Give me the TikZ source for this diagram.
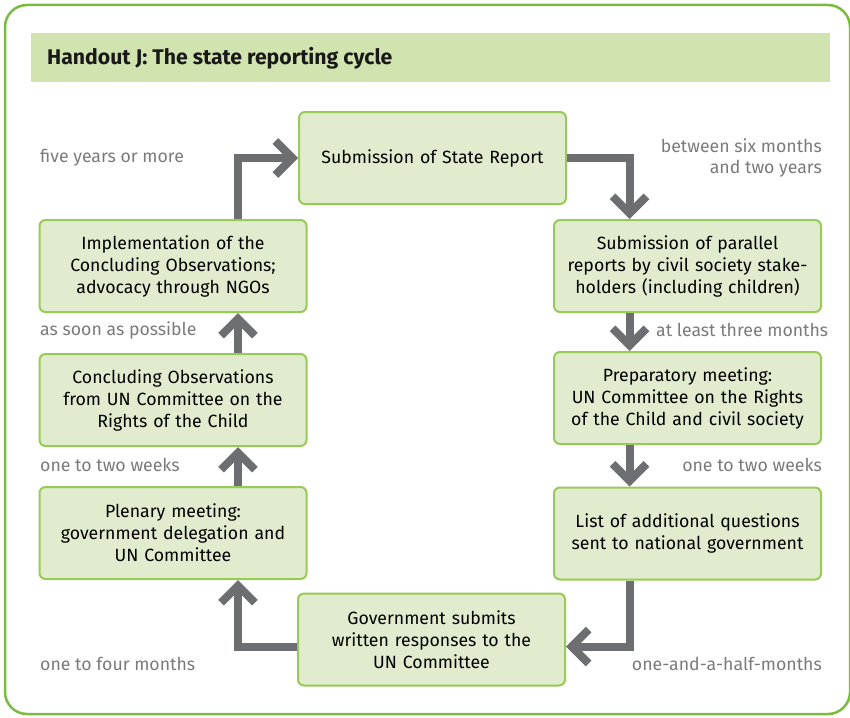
\documentclass[tikz,border=0pt]{standalone}
\usepackage{fontspec}
\setmainfont{Fira Sans}
\usetikzlibrary{arrows.meta}
\definecolor{leaf}{RGB}{152,202,88}
\definecolor{leafpale}{RGB}{224,236,205}
\definecolor{leafband}{RGB}{209,228,176}
\definecolor{frameline}{RGB}{124,186,66}
\definecolor{arrowgrey}{RGB}{109,110,113}
\definecolor{notegrey}{RGB}{122,122,124}
\tikzset{
  stage/.style={rectangle, draw=leaf, fill=leafpale, line width=2pt,
                rounded corners=6pt, minimum width=267pt, minimum height=92pt,
                align=center, text width=258pt, font=\fontsize{17.7}{22}\selectfont},
  flow/.style={draw=arrowgrey, line width=8pt,
               -{Straight Barb[length=17pt, width=34pt]}},
  gap/.style={text=notegrey, font=\fontsize{17.7}{21}\selectfont, inner sep=0pt},
}
\begin{document}
\begin{tikzpicture}[x=1pt, y=-1pt]
  \useasboundingbox (0,0) rectangle (850,717);
  % outer frame and title band
  \draw[frameline, line width=2.5pt, rounded corners=22pt] (5,5) rectangle (850,714);
  \fill[leafband] (31,33) rectangle (830,82);
  \node[anchor=west, inner sep=0pt, font=\fontsize{21.2}{22}\selectfont\bfseries,
        text=black!90] (title) at (47,58) {Handout J: The state reporting cycle};

  % the stages of the cycle
  \node[stage] (submit) at (432.5,158) {Submission of State Report};
  \node[stage] (parallel) at (687.5,266) {Submission of parallel\\reports by civil society stake-\\holders (including children)};
  \node[stage] (prep) at (687.5,398) {Preparatory meeting:\\UN Committee on the Rights\\of the Child and civil society};
  \node[stage] (questions) at (687.5,533.5) {List of additional questions\\sent to national government};
  \node[stage] (responses) at (431.5,639.5) {Government submits\\written responses to the\\UN Committee};
  \node[stage] (plenary) at (173,533) {Plenary meeting:\\government delegation and\\UN Committee};
  \node[stage] (concl) at (173,400) {Concluding Observations\\from UN Committee on the\\Rights of the Child};
  \node[stage] (impl) at (173,266) {Implementation of the\\Concluding Observations;\\advocacy through NGOs};

  % arrows
  \draw[flow] ([xshift=65pt]impl.north) |- (submit.west);
  \draw[flow] (submit.east) -| ([xshift=-58pt]parallel.north);
  \draw[flow] ([xshift=-58pt]parallel.south) -- ([xshift=-58pt]prep.north);
  \draw[flow] ([xshift=-58pt]prep.south) -- ([xshift=-58pt]questions.north);
  \draw[flow] ([xshift=-58pt]questions.south) |- ([yshift=-7pt]responses.east);
  \draw[flow] ([yshift=-7pt]responses.west) -| ([xshift=65pt]plenary.south);
  \draw[flow] ([xshift=65pt]plenary.north) -- ([xshift=65pt]concl.south);
  \draw[flow] ([xshift=65pt]concl.north) -- ([xshift=65pt]impl.south);

  % time between stages
  \node[gap, anchor=west] (t1) at (40,158) {five years or more};
  \node[gap, anchor=east, align=right] (t2) at (822,158) {between six months\\and two years};
  \node[gap, anchor=west] (t3) at (656,330) {at least three months};
  \node[gap, anchor=west] (t4) at (40,330) {as soon as possible};
  \node[gap, anchor=east] (t5) at (822,465) {one to two weeks};
  \node[gap, anchor=west] (t6) at (40,465) {one to two weeks};
  \node[gap, anchor=west] (t7) at (40,664) {one to four months};
  \node[gap, anchor=east] (t8) at (822,664) {one-and-a-half-months};
\end{tikzpicture}
\end{document}
